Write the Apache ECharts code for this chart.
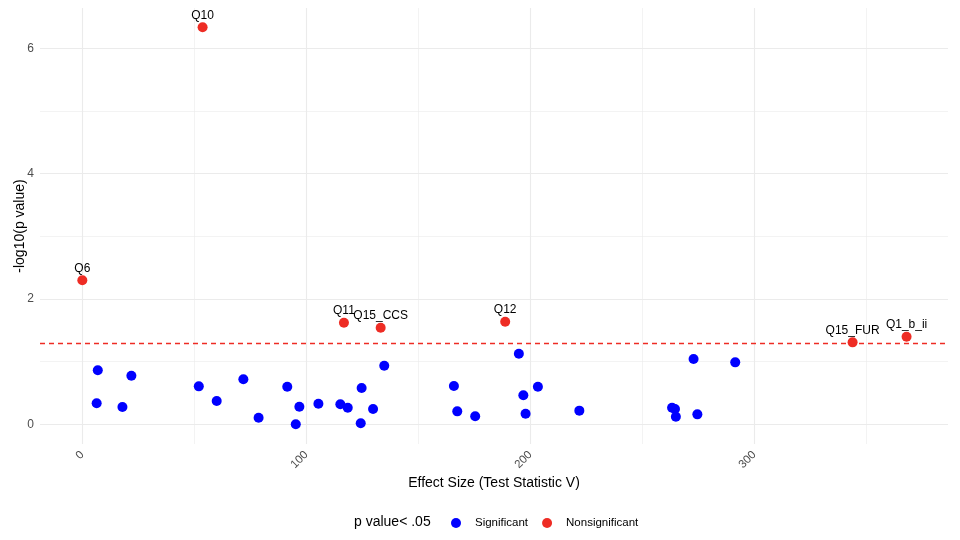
<!DOCTYPE html>
<html>
<head>
<meta charset="utf-8">
<script src="https://cdn.jsdelivr.net/npm/echarts@6/dist/echarts.min.js"></script>
<style>html,body{margin:0;padding:0;background:#fff;}#c{width:960px;height:540px;}</style>
</head>
<body>
<div id="c"></div>
<script>
// Significant (blue) points
const sigX = [6.9, 6.4, 21.9, 17.9, 52.0, 60.0, 71.9, 78.7, 91.5, 96.9, 95.3, 105.4, 115.2, 118.5, 124.7, 124.3, 129.8, 134.8,
              165.9, 167.4, 175.4, 194.9, 196.9, 203.4, 197.9, 221.9,
              263.3, 264.6, 265.0, 274.6, 272.9, 291.5];
const sigY = [0.862, 0.335, 0.776, 0.276, 0.606, 0.372, 0.718, 0.105, 0.600, 0.281, 0.000, 0.329, 0.319, 0.265, 0.579, 0.016, 0.244, 0.935,
              0.611, 0.207, 0.128, 1.127, 0.463, 0.600, 0.170, 0.218,
              0.265, 0.244, 0.122, 0.159, 1.042, 0.989];
// Nonsignificant (red) labelled points
const nsLabels = ['Q6', 'Q10', 'Q11', 'Q15_CCS', 'Q12', 'Q15_FUR', 'Q1_b_ii'];
const nsX = [0.0, 53.7, 116.8, 133.2, 188.8, 343.9, 368.0];
const nsY = [2.298, 6.335, 1.621, 1.541, 1.637, 1.308, 1.398];
// Axis ticks
const xMajor = [0, 100, 200, 300];
const xMinor = [50, 150, 250, 350];
const yMajor = [0, 2, 4, 6];
const yMinor = [1, 3, 5];
const threshold = 1.30103;

const FONT = '"Liberation Sans", Arial, sans-serif';
const BLUE = '#0000FF';
const RED = '#EE2C24';
const GRID = '#EBEBEB';
const xMin = -18.9, xMax = 386.5, yMin = -0.314, yMax = 6.643;

const chart = echarts.init(document.getElementById('c'), null, {renderer: 'canvas'});

function baseX(custom, width, showLabel) {
  return {
    type: 'value', min: xMin, max: xMax, position: 'bottom',
    axisLine: {show: false}, axisTick: {show: false, customValues: custom},
    axisLabel: {show: showLabel, customValues: custom, rotate: 45, margin: 9, color: '#4D4D4D', fontSize: 11.5, fontFamily: FONT},
    splitLine: {show: true, lineStyle: {color: GRID, width: width}}
  };
}
function baseY(custom, width, showLabel) {
  return {
    type: 'value', min: yMin, max: yMax, position: 'left',
    axisLine: {show: false}, axisTick: {show: false, customValues: custom},
    axisLabel: {show: showLabel, customValues: custom, margin: 6, color: '#4D4D4D', fontSize: 12, fontFamily: FONT},
    splitLine: {show: true, lineStyle: {color: GRID, width: width}}
  };
}

const xA = baseX(xMajor, 1.1, true);
xA.name = 'Effect Size (Test Statistic V)';
xA.nameLocation = 'middle';
xA.nameGap = 32;
xA.nameMoveOverlap = false;
xA.nameTextStyle = {color: '#000', fontSize: 14, fontFamily: FONT};
const xB = baseX(xMinor, 0.6, false);
const yA = baseY(yMajor, 1.1, true);
yA.name = '-log10(p value)';
yA.nameLocation = 'middle';
yA.nameGap = 13;
yA.nameRotate = 90;
yA.nameMoveOverlap = false;
yA.nameTextStyle = {color: '#000', fontSize: 14, fontFamily: FONT};
const yB = baseY(yMinor, 0.6, false);

chart.setOption({
  animation: false,
  backgroundColor: '#fff',
  grid: {left: 40, right: 12, top: 8, bottom: 96, containLabel: false, outerBoundsMode: 'none'},
  xAxis: [xA, xB],
  yAxis: [yA, yB],
  legend: {
    left: 451, top: 517, padding: 0, itemWidth: 10, itemHeight: 10, itemGap: 14,
    icon: 'circle',
    textStyle: {color: '#000', fontSize: 11.5, fontFamily: FONT, padding: [0, 0, 0, 9]},
    data: ['Significant', 'Nonsignificant']
  },
  graphic: [{
    type: 'text', left: 354, top: 515,
    style: {text: 'p value< .05', fill: '#000', font: '14px ' + FONT}
  }],
  series: [
    {
      name: 'Significant', type: 'scatter', xAxisIndex: 0, yAxisIndex: 0,
      symbolSize: 10, itemStyle: {color: BLUE, opacity: 1},
      data: sigX.map((x, i) => [x, sigY[i]])
    },
    {
      name: 'Nonsignificant', type: 'scatter', xAxisIndex: 0, yAxisIndex: 0,
      symbolSize: 10, itemStyle: {color: RED, opacity: 1},
      label: {show: true, position: 'top', distance: 1, formatter: p => p.data[2],
              color: '#000', fontSize: 12, fontFamily: FONT},
      data: nsX.map((x, i) => [x, nsY[i], nsLabels[i]]),
      markLine: {
        silent: true, symbol: 'none', label: {show: false},
        lineStyle: {color: RED, type: [5, 4], width: 1.3},
        data: [{yAxis: threshold}]
      },
      z: 3
    }
  ]
});
</script>
</body>
</html>
